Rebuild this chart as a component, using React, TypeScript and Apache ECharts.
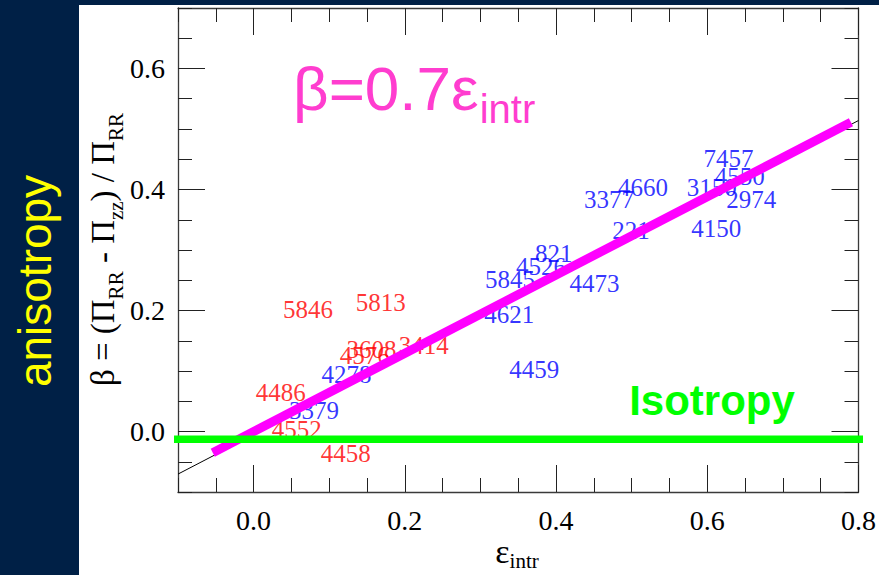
import { useEffect, useRef } from 'react';
import * as echarts from 'echarts';

const SERIF = "'Liberation Serif', 'Times New Roman', serif";
const SANS = "'Liberation Sans', Arial, sans-serif";
const NAVY = '#002046';

// Axis ranges and labelled tick values
const EPS_MIN = -0.1;
const EPS_MAX = 0.8;
const BETA_MIN = -0.1;
const BETA_MAX = 0.7;
const EPS_TICKS = [0, 0.2, 0.4, 0.6, 0.8];
const BETA_TICKS = [0, 0.2, 0.4, 0.6];

// Galaxies plotted as their ID numbers
const RED_IDS = ['5846', '5813', '3608', '4576', '3414', '4486', '4552', '4458'];
const RED_EPS = [0.072, 0.168, 0.156, 0.147, 0.225, 0.036, 0.057, 0.122];
const RED_BETA = [0.201, 0.214, 0.135, 0.125, 0.142, 0.064, 0.003, -0.037];

const BLUE_IDS = ['4278', '3379', '4459', '4621', '5845', '4526', '821', '4473', '221', '3377', '4660', '3150', '7457', '4550', '2974', '4150'];
const BLUE_EPS = [0.123, 0.08, 0.371, 0.338, 0.339, 0.38, 0.397, 0.451, 0.499, 0.47, 0.515, 0.606, 0.628, 0.643, 0.658, 0.612];
const BLUE_BETA = [0.094, 0.034, 0.102, 0.193, 0.251, 0.272, 0.295, 0.245, 0.333, 0.383, 0.403, 0.403, 0.451, 0.421, 0.383, 0.335];

// Thin fitted line across the whole panel
const FIT_EPS = [-0.1, 0.8];
const FIT_BETA = [-0.0704, 0.514];
// Thick highlighted trend
const TREND_EPS = [-0.054, 0.79];
const TREND_BETA = [-0.035, 0.511];
// Isotropy reference level
const ISO_EPS = [-0.111, 0.809];
const ISO_BETA = [-0.013, -0.013];

const near = (v: number, list: number[]) => list.some((t) => Math.abs(t - v) < 1e-6);
const zip = (xs: number[], ys: number[]) => xs.map((x, i) => [x, ys[i]]);

function epsAxis(position: 'bottom' | 'top', major: boolean, labels: boolean) {
  return {
    type: 'value',
    gridIndex: 0,
    position,
    min: EPS_MIN,
    max: EPS_MAX,
    ...(major ? { splitNumber: 5 } : { interval: 0.05 }),
    axisLine: { show: !major, onZero: false, lineStyle: { color: '#3a3a3a', width: 1.3 } },
    axisTick: {
      show: true,
      inside: true,
      length: major ? 27 : 14,
      lineStyle: { color: '#222', width: 1 },
      ...(major ? { customValues: EPS_TICKS } : {}),
    },
    axisLabel: labels
      ? {
          show: true,
          margin: 14,
          color: '#000',
          fontFamily: SERIF,
          fontSize: 28,
          formatter: (v: number) => (near(v, EPS_TICKS) ? v.toFixed(1) : ''),
        }
      : { show: false },
    splitLine: { show: false },
  };
}

function betaAxis(position: 'left' | 'right', major: boolean, labels: boolean) {
  return {
    type: 'value',
    gridIndex: 0,
    position,
    min: BETA_MIN,
    max: BETA_MAX,
    ...(major ? { splitNumber: 4 } : { interval: 0.05 }),
    axisLine: { show: !major, onZero: false, lineStyle: { color: '#3a3a3a', width: 1.3 } },
    axisTick: {
      show: true,
      inside: true,
      length: major ? 27 : 14,
      lineStyle: { color: '#222', width: 1 },
      ...(major ? { customValues: BETA_TICKS } : {}),
    },
    axisLabel: labels
      ? {
          show: true,
          margin: 13,
          color: '#000',
          fontFamily: SERIF,
          fontSize: 28,
          formatter: (v: number) => (near(v, BETA_TICKS) ? v.toFixed(1) : ''),
        }
      : { show: false },
    splitLine: { show: false },
  };
}

function idSeries(ids: string[], eps: number[], beta: number[], color: string) {
  return {
    type: 'scatter',
    xAxisIndex: 0,
    yAxisIndex: 0,
    symbolSize: 0,
    silent: true,
    z: 2,
    data: ids.map((id, i) => ({ name: id, value: [eps[i], beta[i]] })),
    label: {
      show: true,
      position: 'inside',
      formatter: '{b}',
      color,
      fontFamily: SERIF,
      fontSize: 25,
    },
    emphasis: { disabled: true },
  };
}

export default function App() {
  const ref = useRef<HTMLDivElement>(null);

  useEffect(() => {
    if (!ref.current) return;
    const chart = echarts.init(ref.current, undefined, { renderer: 'svg', width: 879, height: 575 });
    const pink = '#ff3dcf';
    chart.setOption({
      animation: false,
      grid: { left: 178, right: 19, top: 8, bottom: 83 },
      xAxis: [
        epsAxis('bottom', false, true),
        epsAxis('bottom', true, false),
        epsAxis('top', false, false),
        epsAxis('top', true, false),
      ],
      yAxis: [
        betaAxis('left', false, true),
        betaAxis('left', true, false),
        betaAxis('right', false, false),
        betaAxis('right', true, false),
      ],
      series: [
        idSeries(RED_IDS, RED_EPS, RED_BETA, '#ff0000'),
        idSeries(BLUE_IDS, BLUE_EPS, BLUE_BETA, '#0000ff'),
        {
          type: 'line',
          data: zip(FIT_EPS, FIT_BETA),
          symbol: 'none',
          silent: true,
          z: 3,
          lineStyle: { color: '#000', width: 1 },
        },
        {
          type: 'line',
          data: zip(TREND_EPS, TREND_BETA),
          symbol: 'none',
          silent: true,
          z: 4,
          lineStyle: { color: '#ff00ff', width: 9, cap: 'butt' },
        },
        {
          type: 'line',
          data: zip(ISO_EPS, ISO_BETA),
          symbol: 'none',
          silent: true,
          clip: false,
          z: 5,
          lineStyle: { color: '#00ff00', width: 7.5, cap: 'butt' },
        },
      ],
      graphic: [
        {
          type: 'text',
          x: 35,
          y: 281,
          rotation: Math.PI / 2,
          style: {
            text: 'anisotropy',
            fill: '#ffff00',
            fontFamily: SANS,
            fontSize: 46,
            align: 'center',
            verticalAlign: 'middle',
          },
        },
        {
          type: 'text',
          x: 86,
          y: 249.5,
          rotation: Math.PI / 2,
          style: {
            text: '{m|β = (Π}{s|RR}{m| - Π}{s|zz}{m|) / Π}{s|RR}',
            align: 'center',
            verticalAlign: 'top',
            rich: {
              m: { fontFamily: SERIF, fontSize: 33, fill: '#000', verticalAlign: 'top' },
              s: { fontFamily: SERIF, fontSize: 21, fill: '#000', verticalAlign: 'top', padding: [19, 0, 0, 0] },
            },
          },
        },
        {
          type: 'text',
          x: 517,
          y: 534,
          style: {
            text: '{m|ε}{s|intr}',
            align: 'center',
            verticalAlign: 'top',
            rich: {
              m: { fontFamily: SERIF, fontSize: 34, fill: '#000', verticalAlign: 'top' },
              s: { fontFamily: SERIF, fontSize: 21, fill: '#000', verticalAlign: 'top', padding: [16, 0, 0, 0] },
            },
          },
        },
        {
          type: 'text',
          x: 293,
          y: 57,
          z: 10,
          style: {
            text: '{m|β=0.7ε}{s|intr}',
            align: 'left',
            verticalAlign: 'top',
            rich: {
              m: { fontFamily: SANS, fontSize: 62, fill: pink, verticalAlign: 'top' },
              s: { fontFamily: SANS, fontSize: 40, fill: pink, verticalAlign: 'top', padding: [32, 0, 0, 1] },
            },
          },
        },
        {
          type: 'text',
          x: 712,
          y: 400,
          z: 10,
          style: {
            text: 'Isotropy',
            fill: '#00ff00',
            fontFamily: SANS,
            fontWeight: 'bold',
            fontSize: 42,
            align: 'center',
            verticalAlign: 'middle',
          },
        },
      ],
    });
    return () => chart.dispose();
  }, []);

  return (
    <div
      style={{
        position: 'fixed',
        left: 0,
        top: 0,
        width: 879,
        height: 575,
        background: NAVY,
        overflow: 'hidden',
      }}
    >
      <div style={{ position: 'absolute', left: 79, top: 5, width: 800, height: 570, background: '#fff' }} />
      <div ref={ref} style={{ position: 'absolute', left: 0, top: 0, width: 879, height: 575 }} />
    </div>
  );
}
